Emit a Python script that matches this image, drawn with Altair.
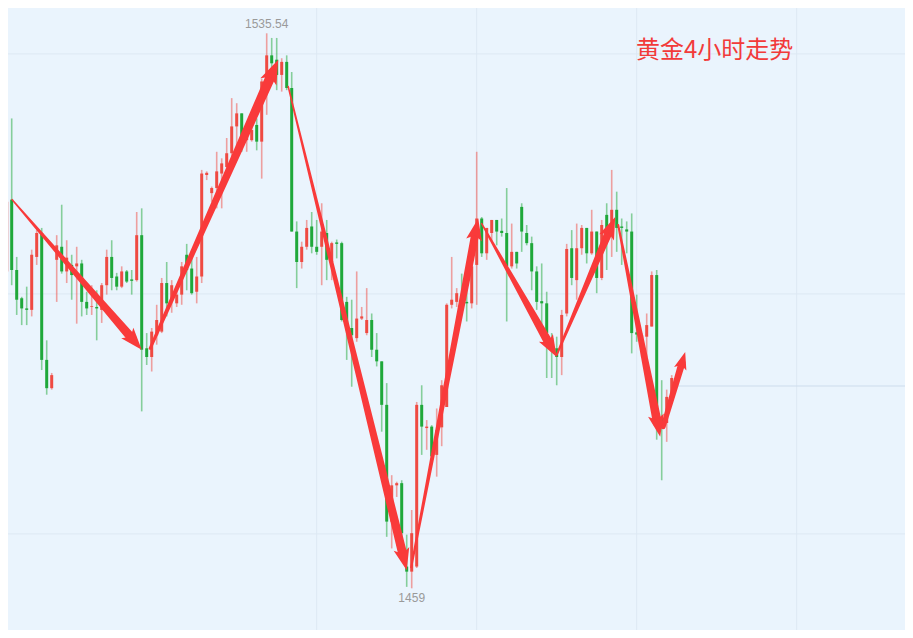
import math
import altair as alt
import pandas as pd

# ---------------- candle data (4h gold) ----------------
opens = [1493.0, 1502.7, 1512.6, 1502.9, 1499.0, 1497.6, 1497.4, 1504.7, 1508.0, 1490.5,
         1486.6, 1504.3, 1506.1, 1502.7, 1503.6, 1503.4, 1503.8, 1498.5, 1497.8, 1497.8,
         1497.4, 1500.8, 1504.7, 1502.0, 1500.6, 1502.7, 1501.6, 1501.5, 1507.7, 1492.1,
         1490.9, 1493.9, 1494.4, 1501.1, 1498.8, 1498.3, 1499.5, 1505.0, 1503.1, 1499.9,
         1502.0, 1516.0, 1513.5, 1514.2, 1516.2, 1517.1, 1519.0, 1522.7, 1524.5, 1520.8,
         1520.8, 1522.9, 1520.6, 1528.9, 1532.5, 1531.9, 1529.8, 1531.6, 1528.0, 1508.2,
         1504.0, 1506.1, 1508.9, 1506.1, 1506.1, 1508.0, 1504.0, 1506.7, 1506.6, 1498.5,
         1494.9, 1493.5, 1496.2, 1494.2, 1496.0, 1491.9, 1490.3, 1484.3, 1468.2, 1473.2,
         1473.5, 1462.0, 1461.3, 1462.0, 1484.3, 1481.1, 1481.3, 1477.4, 1481.2, 1484.0,
         1498.1, 1498.5, 1498.8, 1498.5, 1498.3, 1503.6, 1510.0, 1505.2, 1508.0, 1509.8,
         1508.3, 1508.0, 1503.4, 1505.4, 1511.6, 1508.0, 1506.6, 1502.7, 1498.6, 1498.3,
         1493.5, 1492.1, 1490.9, 1496.9, 1505.9, 1501.5, 1505.9, 1508.7, 1505.2, 1508.2,
         1501.8, 1510.5, 1509.1, 1511.2, 1508.9, 1508.5, 1508.2, 1494.3, 1492.6, 1493.7,
         1495.1, 1502.2, 1482.4, 1481.8, 1485.9]
closes = [1502.7, 1512.3, 1502.9, 1498.8, 1497.6, 1497.4, 1505.0, 1508.0, 1490.5, 1486.6,
          1488.4, 1506.3, 1502.7, 1504.6, 1502.2, 1503.8, 1498.5, 1497.6, 1497.9, 1497.6,
          1500.8, 1504.7, 1501.8, 1500.6, 1502.7, 1501.3, 1501.4, 1507.7, 1491.9, 1490.9,
          1494.4, 1496.0, 1501.1, 1498.3, 1500.8, 1499.5, 1503.4, 1502.9, 1499.7, 1502.0,
          1516.2, 1516.3, 1514.2, 1516.5, 1517.6, 1519.0, 1522.7, 1524.5, 1521.1, 1522.2,
          1522.2, 1520.6, 1528.9, 1532.5, 1531.4, 1529.8, 1531.6, 1528.0, 1508.2, 1504.0,
          1506.1, 1508.7, 1506.1, 1505.4, 1508.2, 1504.3, 1506.6, 1506.5, 1496.0, 1494.6,
          1493.9, 1496.2, 1496.5, 1496.0, 1491.9, 1490.3, 1484.3, 1468.2, 1473.2, 1473.5,
          1466.6, 1461.3, 1466.6, 1484.3, 1481.3, 1481.3, 1477.2, 1480.8, 1487.0, 1498.1,
          1498.8, 1499.7, 1498.3, 1498.3, 1503.4, 1510.0, 1505.2, 1508.7, 1509.8, 1508.2,
          1508.0, 1503.4, 1505.4, 1503.8, 1508.2, 1506.6, 1502.7, 1498.5, 1498.3, 1494.2,
          1492.1, 1490.9, 1496.7, 1505.8, 1501.8, 1505.9, 1508.7, 1505.2, 1508.2, 1501.8,
          1509.1, 1507.0, 1511.2, 1508.7, 1508.7, 1508.2, 1494.2, 1494.0, 1493.9, 1495.3,
          1502.2, 1482.2, 1481.8, 1485.4, 1488.0]
highs = [1503.7, 1513.7, 1523.8, 1504.7, 1499.2, 1500.6, 1505.7, 1508.4, 1508.7, 1493.2,
         1488.7, 1507.7, 1511.9, 1507.0, 1505.0, 1506.1, 1504.3, 1499.9, 1500.8, 1500.1,
         1501.1, 1505.7, 1507.0, 1502.5, 1503.4, 1502.9, 1502.9, 1510.9, 1511.4, 1494.2,
         1494.9, 1498.1, 1501.8, 1504.0, 1501.5, 1500.1, 1504.0, 1506.5, 1505.7, 1504.7,
         1516.7, 1516.5, 1514.4, 1519.2, 1518.3, 1521.1, 1526.6, 1525.9, 1524.5, 1522.7,
         1523.6, 1523.8, 1529.3, 1535.54, 1534.9, 1534.9, 1532.1, 1532.5, 1530.2, 1509.6,
         1506.8, 1509.8, 1510.9, 1509.8, 1512.1, 1509.8, 1506.8, 1507.1, 1506.8, 1499.2,
         1498.8, 1502.7, 1497.8, 1500.4, 1496.9, 1494.2, 1490.3, 1487.3, 1474.6, 1473.7,
         1473.9, 1466.4, 1469.8, 1484.7, 1487.0, 1482.2, 1481.5, 1483.8, 1487.7, 1498.3,
         1504.7, 1500.4, 1502.4, 1500.6, 1503.6, 1519.2, 1510.2, 1508.7, 1509.8, 1509.8,
         1510.0, 1514.2, 1509.3, 1505.4, 1512.1, 1509.1, 1507.5, 1503.4, 1503.8, 1499.9,
         1494.2, 1493.7, 1497.4, 1506.5, 1508.4, 1509.3, 1509.1, 1508.7, 1511.2, 1508.2,
         1509.8, 1512.1, 1516.7, 1513.7, 1510.0, 1509.6, 1510.7, 1499.5, 1494.2, 1496.9,
         1502.7, 1502.9, 1487.7, 1486.4, 1488.4]
lows = [1492.8, 1501.5, 1500.8, 1496.7, 1495.3, 1495.3, 1496.5, 1503.6, 1489.1, 1485.7,
        1486.4, 1498.5, 1502.4, 1501.1, 1498.8, 1495.5, 1496.5, 1496.7, 1496.7, 1493.2,
        1495.6, 1499.5, 1500.1, 1500.1, 1500.4, 1501.1, 1499.5, 1501.3, 1483.4, 1489.8,
        1488.9, 1492.6, 1494.2, 1496.5, 1497.0, 1497.8, 1498.1, 1500.1, 1499.5, 1498.3,
        1501.1, 1515.3, 1512.3, 1511.4, 1511.4, 1516.7, 1518.3, 1519.0, 1519.2, 1519.2,
        1520.6, 1519.4, 1515.5, 1524.3, 1529.8, 1527.7, 1527.5, 1527.7, 1508.2, 1500.4,
        1503.1, 1505.7, 1505.2, 1505.0, 1500.8, 1501.5, 1501.5, 1504.5, 1495.8, 1490.5,
        1486.8, 1493.0, 1496.0, 1493.9, 1490.9, 1489.6, 1480.6, 1466.1, 1464.5, 1471.6,
        1465.0, 1459.2, 1459.0, 1461.8, 1477.4, 1478.1, 1476.9, 1474.4, 1478.6, 1484.0,
        1497.6, 1497.8, 1496.9, 1495.8, 1497.6, 1498.1, 1504.7, 1504.3, 1506.8, 1506.3,
        1507.5, 1495.8, 1503.1, 1503.1, 1505.4, 1506.3, 1500.1, 1497.4, 1494.2, 1488.0,
        1488.0, 1487.0, 1488.4, 1496.5, 1500.8, 1498.8, 1505.0, 1503.8, 1505.0, 1499.7,
        1501.5, 1502.9, 1504.7, 1505.4, 1503.6, 1505.2, 1491.4, 1493.0, 1490.9, 1490.9,
        1495.1, 1479.5, 1473.9, 1479.2, 1485.2]

# ---------------- hand-drawn trend arrows ----------------
arrow_from_idx = [2.1, 29.7, 57.3, 81.9, 96.0, 111.0, 123.3, 132.3]
arrow_from_price = [1512.6, 1492.1, 1528.2, 1461.9, 1509.3, 1491.2, 1509.1, 1481.3]
arrow_to_idx = [28.0, 55.3, 81.0, 95.3, 111.0, 122.7, 131.7, 136.7]
arrow_to_price = [1491.9, 1531.9, 1461.5, 1510.0, 1490.9, 1510.2, 1479.9, 1491.6]
arrow_w_from = [1.5, 3.0, 1.5, 2.0, 1.5, 2.0, 2.0, 5.0]
arrow_w_to = [9.0, 10.0, 9.0, 8.0, 9.0, 8.0, 9.0, 7.0]
arrow_head = [10, 11, 10, 10, 10, 10, 10, 8]

# grid
grid_idx = [63, 95, 127, 159]
grid_price = [1532.7, 1499.6, 1466.5]
last_line_price = 1486.9
last_line_from_idx = 134.5

title_text = "黄金4小时走势"

# ---------------- layout / styles ----------------
W, H = 897, 622
XMIN, XMAX = 1.26, 180.66
YMIN, YMAX = 1453.25, 1539.03
BG = "#eaf4fd"
RED = "#ef4a42"
GREEN = "#1fa83a"
ARROW = "#f93a3a"
GRID = "#dde8f3"

px_per_idx = W / (XMAX - XMIN)
px_per_usd = H / (YMAX - YMIN)

xs = alt.Scale(domain=[XMIN, XMAX], nice=False, zero=False)
ys = alt.Scale(domain=[YMIN, YMAX], nice=False, zero=False)

candles = pd.DataFrame({
    "i": list(range(len(opens))),
    "open": opens, "close": closes, "high": highs, "low": lows,
})
candles["dir"] = ["up" if c >= o else "down" for o, c in zip(opens, closes)]
color_enc = alt.Color("dir:N", scale=alt.Scale(domain=["up", "down"], range=[RED, GREEN]), legend=None)

X = lambda f: alt.X(f, scale=xs, axis=None)
Y = lambda f: alt.Y(f, scale=ys, axis=None)

wicks = alt.Chart(candles).mark_rule(strokeWidth=1.6, opacity=0.5, clip=True).encode(
    x=X("i:Q"), y=Y("low:Q"), y2="high:Q", color=color_enc)
bodies = alt.Chart(candles).mark_rule(strokeWidth=3, clip=True).encode(
    x=X("i:Q"), y=Y("open:Q"), y2="close:Q", color=color_enc)

vgrid = alt.Chart(pd.DataFrame({"g": grid_idx})).mark_rule(color=GRID, strokeWidth=1, clip=True).encode(x=X("g:Q"))
hgrid = alt.Chart(pd.DataFrame({"g": grid_price})).mark_rule(color=GRID, strokeWidth=1, clip=True).encode(y=Y("g:Q"))
last_line = alt.Chart(pd.DataFrame({"p": [last_line_price], "a": [last_line_from_idx], "b": [XMAX]})).mark_rule(
    color="#cddcec", strokeWidth=1, clip=True).encode(x=X("a:Q"), x2="b:Q", y=Y("p:Q"))

# arrows: tapered trail + barbed head
trail_rows, head_rows = [], []
for k in range(len(arrow_from_idx)):
    i0, p0 = arrow_from_idx[k], arrow_from_price[k]
    i1, p1 = arrow_to_idx[k], arrow_to_price[k]
    dxp = (i1 - i0) * px_per_idx
    dyp = -(p1 - p0) * px_per_usd
    ln = math.hypot(dxp, dyp)
    ang = (math.degrees(math.atan2(dxp, -dyp)) + 360) % 360
    back = 1.45 * arrow_head[k]
    ie = i1 - dxp / ln * back / px_per_idx
    pe = p1 + dyp / ln * back / px_per_usd
    trail_rows.append({"a": k, "s": 0, "i": i0, "p": p0, "w": arrow_w_from[k]})
    trail_rows.append({"a": k, "s": 1, "i": ie, "p": pe, "w": arrow_w_to[k]})
    head_rows.append({"a": k, "i": i1, "p": p1, "ang": ang, "hs": 4 * arrow_head[k] ** 2})

trails = alt.Chart(pd.DataFrame(trail_rows)).mark_trail(color=ARROW, clip=True).encode(
    x=X("i:Q"), y=Y("p:Q"), size=alt.Size("w:Q", scale=None, legend=None),
    detail="a:N", order="s:Q")
HEAD = "M0,0 L0.8,2.2 L0,1.7 L-0.8,2.2 Z"
heads = alt.Chart(pd.DataFrame(head_rows)).mark_point(
    shape=HEAD, filled=True, color=ARROW, opacity=1, strokeWidth=0, clip=True).encode(
    x=X("i:Q"), y=Y("p:Q"), size=alt.Size("hs:Q", scale=None, legend=None),
    angle=alt.Angle("ang:Q", scale=None))

# high / low labels
hi_i = max(range(len(highs)), key=lambda j: highs[j])
lo_i = min(range(len(lows)), key=lambda j: lows[j])
hi_lbl = alt.Chart(pd.DataFrame({"i": [hi_i], "p": [highs[hi_i]], "t": [f"{highs[hi_i]:g}"]})).mark_text(
    baseline="bottom", dy=-2, fontSize=12, color="#9a9a9a", font="Liberation Sans").encode(
    x=X("i:Q"), y=Y("p:Q"), text="t:N")
lo_lbl = alt.Chart(pd.DataFrame({"i": [lo_i], "p": [lows[lo_i]], "t": [f"{lows[lo_i]:g}"]})).mark_text(
    baseline="top", dy=5, fontSize=12, color="#9a9a9a", font="Liberation Sans").encode(
    x=X("i:Q"), y=Y("p:Q"), text="t:N")

title = alt.Chart(pd.DataFrame({"t": [title_text]})).mark_text(
    align="left", baseline="middle", fontSize=24, color="#f23a3a",
    font="Noto Sans CJK SC").encode(
    x=alt.value(628), y=alt.value(43), text="t:N")

chart = alt.layer(vgrid, hgrid, last_line, wicks, bodies, trails, heads, hi_lbl, lo_lbl, title).properties(
    width=W, height=H, padding=0, background=BG,
    autosize=alt.AutoSizeParams(type="none"),
).configure_view(stroke=None)

chart.save("out.html", embed_options={"renderer": "svg", "actions": False})
